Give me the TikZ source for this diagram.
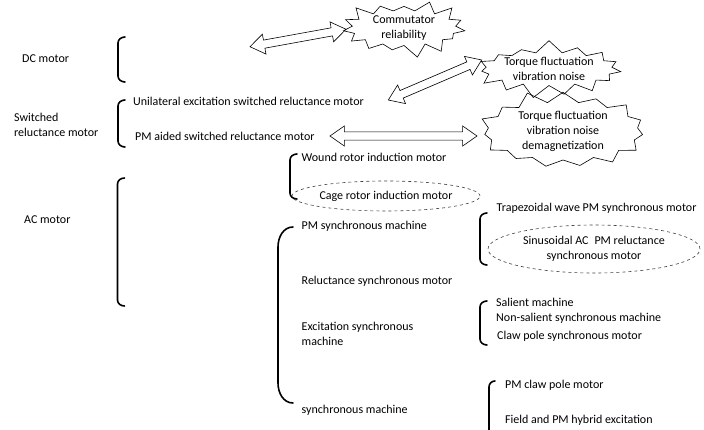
\documentclass[tikz,border=0pt]{standalone}
\usepackage{fontspec}
\setmainfont{Carlito}
\usetikzlibrary{shapes.symbols,shapes.arrows,shapes.geometric}
\begin{document}
\begin{tikzpicture}[x=1pt,y=-1pt,
  lbl/.style={inner sep=0pt, anchor=west, font=\fontsize{12}{15}\selectfont, text height=8.5pt, text depth=2.5pt},
  lbltwo/.style={inner sep=0pt, anchor=west, align=left, font=\fontsize{12}{15}\selectfont},
  brk/.style={line width=1.6pt, line cap=round},
  burst/.style={starburst, draw, line width=0.6pt, align=center, font=\fontsize{12}{15}\selectfont, inner sep=0pt, starburst points=15, starburst point height=13pt},
  dbl/.style={double arrow, draw, line width=0.6pt, inner xsep=0pt, inner ysep=3.8pt, double arrow head extend=6pt, double arrow tip angle=70},
  oval/.style={ellipse, draw=black!75, dashed, line width=0.6pt, inner sep=0pt, align=center, font=\fontsize{12}{15}\selectfont}
]
\useasboundingbox (0,0) rectangle (704,430);

% left column: motor families
\node[lbl] (dc) at (22,60) {DC motor};
\node[lbltwo] (sr) at (14,124.5) {Switched\\reluctance motor};
\node[lbl] (ac) at (24,221) {AC motor};

% family brackets
\draw[brk] (125,37) to[out=180,in=90] (118,43) -- (118,76) to[out=-90,in=180] (125,82);
\draw[brk] (125,100) to[out=180,in=90] (118,106) -- (118,141) to[out=-90,in=180] (125,147);
\draw[brk] (124.5,178) to[out=180,in=90] (117.5,184) -- (117.5,300) to[out=-90,in=180] (124.5,306);

% switched reluctance branch
\node[lbl] (uni) at (133,103) {Unilateral excitation switched reluctance motor};
\node[lbl] (pma) at (135,138) {PM aided switched reluctance motor};

% induction branch
\draw[brk] (297,154) to[out=180,in=90] (290,160) -- (290,193) to[out=-90,in=180] (297,199);
\node[lbl] (wound) at (301.5,158.3) {Wound rotor induction motor};
\node[oval, minimum width=175pt, minimum height=30pt] (cage) at (386,196) {Cage rotor induction motor};

% synchronous branch
\draw[brk] (293,227) to[out=180,in=90] (278,247) -- (278,383) to[out=-90,in=180] (293,403);
\node[lbl] (pmsm) at (301.5,227) {PM synchronous machine};
\node[lbl] (rel) at (301.5,282) {Reluctance synchronous motor};
\node[lbltwo] (exc) at (301.5,333.5) {Excitation synchronous\\machine};
\node[lbl] (sm) at (301.5,410) {synchronous machine};

% PM synchronous sub-types
\draw[brk] (487,213) to[out=180,in=90] (480,219) -- (480,259) to[out=-90,in=180] (487,265);
\node[lbl] (trap) at (496.5,209) {Trapezoidal wave PM synchronous motor};
\node[oval, minimum width=212pt, minimum height=48pt] (sin) at (594,249) {Sinusoidal AC\enspace PM reluctance\\synchronous motor};

% excitation sub-types
\draw[brk] (487,301) to[out=180,in=90] (480,307) -- (480,339) to[out=-90,in=180] (487,345);
\node[lbl] (sal) at (496,304) {Salient machine};
\node[lbl] (nons) at (496,318.5) {Non-salient synchronous machine};
\node[lbl] (claw) at (497,336.5) {Claw pole synchronous motor};

% hybrid sub-types
\draw[brk] (495,381) to[out=180,in=90] (489,387) -- (489,440);
\node[lbl] (pmclaw) at (505,385) {PM claw pole motor};
\node[lbl] (field) at (505,420) {Field and PM hybrid excitation};

% drawbacks
\node[burst, minimum width=130pt, minimum height=43pt, random starburst=3] (comm) at (404,28) {Commutator\\reliability};
\node[burst, minimum width=150pt, minimum height=56pt, random starburst=7] (tq1) at (549,69) {Torque fluctuation\\vibration noise};
\node[burst, minimum width=176pt, minimum height=84pt, random starburst=11] (tq2) at (563,131) {Torque fluctuation\\vibration noise\\demagnetization};

% links between families and drawbacks
\node[dbl, minimum height=97.6pt, rotate=10.3] (ar1) at (298,38) {};
\node[dbl, minimum height=101.6pt, rotate=23.2] (ar2) at (435,80) {};
\node[dbl, minimum height=147pt] (ar3) at (403.5,136) {};
\end{tikzpicture}
\end{document}
